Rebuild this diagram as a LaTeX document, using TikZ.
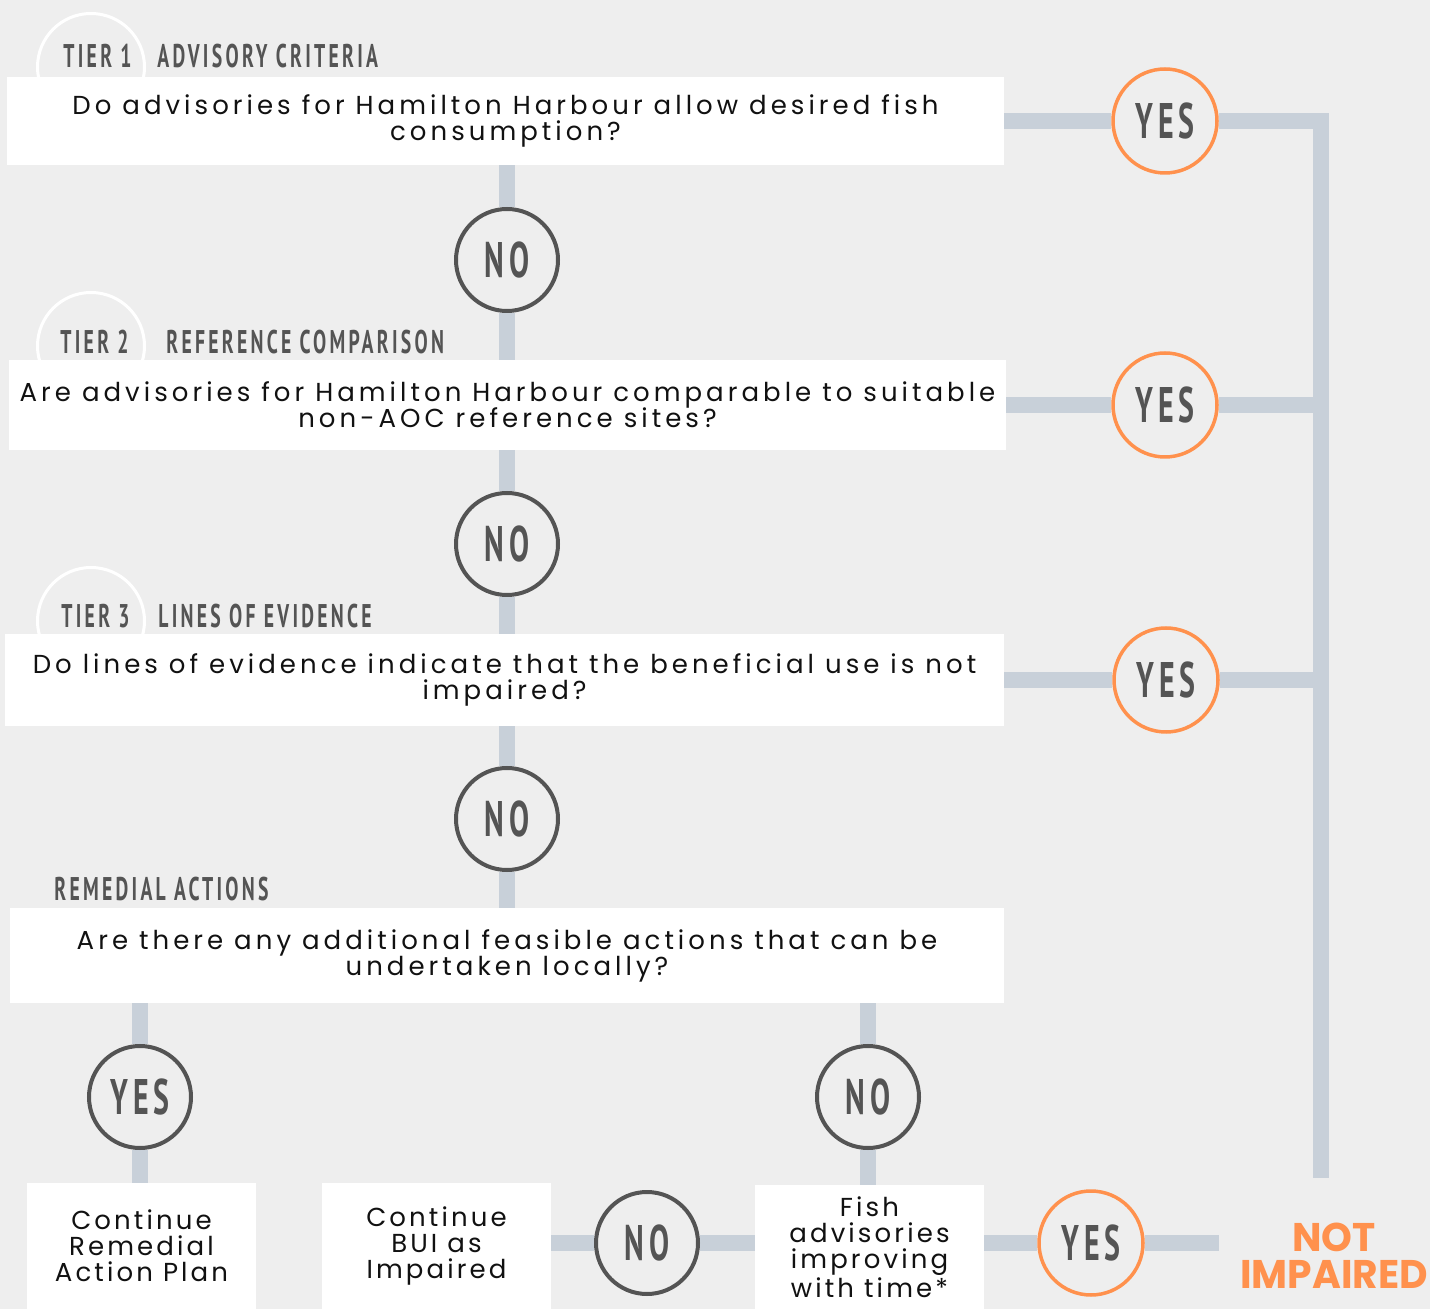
\documentclass[tikz,border=0pt]{standalone}
\usepackage{fontspec}
\setmainfont{Poppins}
\newfontfamily\bodyf{Poppins}[LetterSpace=15.5]
\newfontfamily\smallf{Poppins}[LetterSpace=12]
\newfontfamily\condf{PT Sans}[FakeStretch=0.6,LetterSpace=10]
\newfontfamily\boldf{Poppins}[FakeStretch=0.98]
\definecolor{bgc}{HTML}{EEEEEE}
\definecolor{linec}{HTML}{C8D0D9}
\definecolor{darkc}{HTML}{545454}
\definecolor{orangec}{HTML}{FF914D}
\definecolor{txtc}{HTML}{111111}
\pgfdeclarelayer{back}
\pgfdeclarelayer{mid}
\pgfsetlayers{back,mid,main}
\tikzset{
  box/.style={fill=white, inner sep=0pt, align=center, text=txtc,
    font=\bodyf\fontsize{13}{13}\selectfont},
  smallbox/.style={box, font=\smallf\fontsize{13}{13}\selectfont},
  nocirc/.style={circle, draw=darkc, line width=2pt, fill=bgc, minimum size=51pt,
    inner sep=0pt, text=darkc, font=\condf\bfseries\fontsize{25}{25}\selectfont},
  yescirc/.style={circle, draw=orangec, line width=1.75pt, fill=bgc, minimum size=52pt,
    inner sep=0pt, text=darkc, font=\condf\bfseries\fontsize{25}{25}\selectfont},
  tiercirc/.style={circle, draw=white, line width=1.5pt, minimum size=53.5pt, inner sep=0pt},
  tierlab/.style={anchor=base west, inner sep=0pt, text=darkc,
    font=\condf\bfseries\fontsize{16.4}{16.4}\selectfont},
  conn/.style={draw=linec, line width=8pt},
}
\begin{document}
\begin{tikzpicture}[x=0.5pt,y=-0.5pt]
\useasboundingbox (0,0) rectangle (1430,1309);
\begin{pgfonlayer}{back}
  \fill[bgc] (0,0) rectangle (1430,1309);
  \node[tiercirc] (tc1) at (91,67) {};
  \node[tiercirc] (tc2) at (91,346) {};
  \node[tiercirc] (tc3) at (91,621) {};
\end{pgfonlayer}

% tier labels
\node[tierlab] (t1a) at (63,68) {TIER 1};
\node[tierlab] (t1b) at (157,68) {ADVISORY CRITERIA};
\node[tierlab] (t2a) at (60,354) {TIER 2};
\node[tierlab] (t2b) at (166,354) {REFERENCE COMPARISON};
\node[tierlab] (t3a) at (61,628) {TIER 3};
\node[tierlab] (t3b) at (158,628) {LINES OF EVIDENCE};
\node[tierlab] (t4b) at (54,900) {REMEDIAL ACTIONS};

% boxes
\node[box, minimum width=498.5pt, minimum height=44pt] (b1) at (505.5,121)
  {Do advisories for Hamilton Harbour allow desired fish\\consumption?};
\node[box, minimum width=498.5pt, minimum height=45pt] (b2) at (507.5,405)
  {Are advisories for Hamilton Harbour comparable to suitable\\[-1.5pt]non-AOC reference sites?};
\node[box, minimum width=499.5pt, minimum height=46pt] (b3) at (504.5,680)
  {Do lines of evidence indicate that the beneficial use is not\\impaired?};
\node[box, minimum width=497pt, minimum height=47.5pt] (b4) at (507,955.5)
  {Are there any additional feasible actions that can be\\undertaken locally?};
\node[smallbox, minimum width=114.5pt, minimum height=63pt] (c1) at (141.5,1246)
  {Continue\\Remedial\\Action Plan};
\node[smallbox, minimum width=114.5pt, minimum height=63pt] (c2) at (436.5,1246)
  {Continue\\BUI as\\Impaired};
\node[smallbox, minimum width=114.5pt, minimum height=62pt] (c3) at (869.5,1247)
  {Fish\\advisories\\improving\\with time*};

% circles
\node[nocirc] (n1) at (507,260) {NO};
\node[nocirc] (n2) at (507,544) {NO};
\node[nocirc] (n3) at (507,819) {NO};
\node[yescirc] (y1) at (1165,121) {YES};
\node[yescirc] (y2) at (1165,405) {YES};
\node[yescirc] (y3) at (1166,680) {YES};
\node[nocirc] (yA) at (140,1097) {YES};
\node[nocirc] (nB) at (868,1097) {NO};
\node[nocirc] (nC) at (647,1243) {NO};
\node[yescirc] (yD) at (1091,1243) {YES};

\node[text=orangec, align=center, inner sep=0pt,
  font=\boldf\bfseries\fontsize{20}{18.5}\selectfont] (ni) at (1334,1256) {NOT\\IMPAIRED};

\coordinate (bt) at (1321,121);
\coordinate (bb) at (1321,1178);
\coordinate (endp) at (1219,1243);

\begin{pgfonlayer}{mid}
  \draw[conn] (b1.south -| n1) -- (n1) -- (n1 |- b2.north);
  \draw[conn] (b2.south -| n2) -- (n2) -- (n2 |- b3.north);
  \draw[conn] (b3.south -| n3) -- (n3) -- (n3 |- b4.north);
  \draw[conn] (b4.south -| yA) -- (yA) -- (yA |- c1.north);
  \draw[conn] (b4.south -| nB) -- (nB) -- (nB |- c3.north);
  \draw[conn] (c2.east |- nC) -- (nC) -- (nC -| c3.west);
  \draw[conn] (c3.east |- yD) -- (yD) -- (endp);
  \draw[conn] (b1.east |- y1) -- (y1) -- (bt) -- (bb);
  \draw[conn] (b2.east |- y2) -- (y2) -- (y2 -| bt);
  \draw[conn] (b3.east |- y3) -- (y3) -- (y3 -| bt);
\end{pgfonlayer}
\end{tikzpicture}
\end{document}
